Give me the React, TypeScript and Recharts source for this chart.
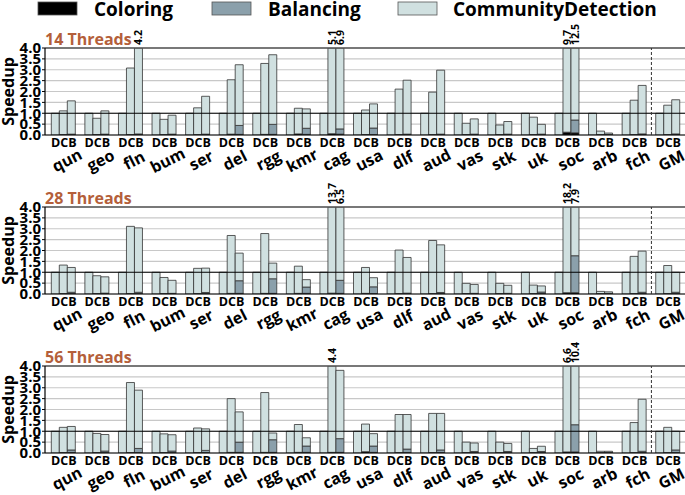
import React from "react";
import { BarChart, Bar, XAxis, YAxis, CartesianGrid, ReferenceLine, LabelList } from "recharts";

const FONT = "'Open Sans', 'DejaVu Sans', sans-serif";
const CD_FILL = "#d0e0e0";
const BAL_FILL = "#8ba0ab";
const COL_FILL = "#000000";
const EDGE = "#333333";

const graphs = ["qun", "geo", "fln", "bum", "ser", "del", "rgg", "kmr", "cag", "usa", "dlf", "aud", "vas", "stk", "uk", "soc", "arb", "fch", "GM"];
const yTicks = [0, 0.5, 1, 1.5, 2, 2.5, 3, 3.5, 4];
const legendItems = ["Coloring", "Balancing", "CommunityDetection"];

// D = baseline speedup
const baseline = [1, 1, 1, 1, 1, 1, 1, 1, 1, 1, 1, 1, 1, 1, 1, 1, 1, 1, 1];

// 14 threads
const c14 = [1.11, 0.77, 3.08, 0.72, 1.25, 2.54, 3.29, 1.23, 5.1, 1.15, 2.11, 1.97, 0.54, 0.46, 0.82, 9.7, 0.18, 1.6, 1.37];
const b14 = [1.57, 1.11, 4.2, 0.91, 1.78, 3.23, 3.69, 1.2, 6.9, 1.43, 2.52, 2.98, 0.74, 0.62, 0.49, 12.5, 0.09, 2.28, 1.62];
const cColor14 = [0.02, 0.02, 0.02, 0.02, 0.02, 0.04, 0.03, 0.05, 0.06, 0.02, 0.02, 0.02, 0.02, 0.02, 0.02, 0.13, 0.02, 0.02, 0.02];
const bColor14 = [0.02, 0.02, 0.02, 0.02, 0.02, 0.03, 0.03, 0.03, 0.04, 0.02, 0.02, 0.02, 0.02, 0.02, 0.02, 0.1, 0.02, 0.02, 0.02];
const bBal14 = [0.02, 0.02, 0.03, 0.02, 0.02, 0.41, 0.46, 0.28, 0.24, 0.3, 0.02, 0.02, 0.02, 0.02, 0.02, 0.59, 0.01, 0.03, 0.03];

// 28 threads
const c28 = [1.33, 0.84, 3.11, 0.76, 1.18, 2.69, 2.78, 1.28, 13.7, 1.22, 2.02, 2.46, 0.49, 0.49, 0.41, 18.2, 0.12, 1.73, 1.31];
const b28 = [1.22, 0.79, 3.04, 0.63, 1.19, 1.88, 1.42, 0.66, 6.5, 0.75, 1.68, 2.26, 0.44, 0.4, 0.37, 7.9, 0.1, 1.97, 1.0];
const cColor28 = [0.02, 0.02, 0.02, 0.02, 0.02, 0.03, 0.03, 0.03, 0.04, 0.03, 0.02, 0.02, 0.02, 0.02, 0.02, 0.06, 0.02, 0.02, 0.02];
const bColor28 = [0.02, 0.02, 0.02, 0.02, 0.02, 0.03, 0.03, 0.03, 0.03, 0.02, 0.02, 0.02, 0.02, 0.02, 0.02, 0.06, 0.02, 0.02, 0.02];
const bBal28 = [0.06, 0.02, 0.06, 0.01, 0.05, 0.58, 0.67, 0.29, 0.6, 0.31, 0.02, 0.05, 0.01, 0.01, 0.07, 1.7, 0.01, 0.06, 0.06];

// 56 threads
const c56 = [1.18, 0.9, 3.24, 0.88, 1.15, 2.5, 2.78, 1.31, 4.4, 1.33, 1.77, 1.82, 0.5, 0.5, 0.21, 6.6, 0.08, 1.4, 1.18];
const b56 = [1.22, 0.85, 2.89, 0.84, 1.11, 1.89, 0.92, 0.7, 3.8, 0.89, 1.77, 1.82, 0.46, 0.44, 0.31, 10.4, 0.08, 2.47, 1.0];
const cColor56 = [0.02, 0.02, 0.02, 0.02, 0.02, 0.03, 0.03, 0.03, 0.03, 0.06, 0.02, 0.02, 0.02, 0.02, 0.02, 0.05, 0.02, 0.02, 0.02];
const bColor56 = [0.02, 0.02, 0.02, 0.02, 0.02, 0.03, 0.03, 0.03, 0.03, 0.03, 0.02, 0.02, 0.02, 0.02, 0.02, 0.05, 0.02, 0.02, 0.02];
const bBal56 = [0.12, 0.07, 0.19, 0.07, 0.1, 0.47, 0.58, 0.29, 0.63, 0.29, 0.16, 0.12, 0.05, 0.05, 0.05, 1.25, 0.01, 0.06, 0.12];

const W = 685;
const PLOT_TOP = 26;
const PLOT_H = 87;
const AXIS_H = 42;

function GroupTick(props: any) {
  const { x, y, payload } = props;
  const half = payload?.offset ?? 16.8;
  return (
    <g>
      <text x={x} y={y + 12} textAnchor="middle" fontSize={12.5} fontWeight={700} fill="#000" fontFamily={FONT}>
        DCB
      </text>
      <text
        x={0}
        y={0}
        transform={`translate(${x + 3},${y + 25}) rotate(-27)`}
        textAnchor="middle"
        dominantBaseline="central"
        fontSize={16}
        fontWeight={700}
        fill="#000"
        fontFamily={FONT}
      >
        {payload.value}
      </text>
      {payload.value === "GM" && (
        <line x1={x - half} x2={x - half} y1={y} y2={y - PLOT_H} stroke="#333" strokeDasharray="3 2" />
      )}
    </g>
  );
}

function OverflowLabel(props: any) {
  const { value } = props;
  if (!value) return null;
  const vb = props.viewBox ?? props;
  const cx = Number(vb.x) + Number(vb.width) / 2;
  return (
    <text
      x={0}
      y={0}
      transform={`translate(${cx},${PLOT_TOP - 3}) rotate(-90)`}
      textAnchor="start"
      dominantBaseline="central"
      fontSize={10.5}
      fontWeight={700}
      fill="#000"
      fontFamily={FONT}
    >
      {value}
    </text>
  );
}

interface PanelProps {
  top: number;
  c: number[];
  b: number[];
  cCol: number[];
  bCol: number[];
  bBal: number[];
}

function Panel({ top, c, b, cCol, bCol, bBal }: PanelProps) {
  const rows = graphs.map((name, i) => ({
    name,
    d: baseline[i],
    cCol: cCol[i],
    cCd: c[i] - cCol[i],
    bCol: bCol[i],
    bBal: bBal[i],
    bCd: b[i] - bCol[i] - bBal[i],
    cLabel: c[i] > 4 ? c[i].toFixed(1) : "",
    bLabel: b[i] > 4 ? b[i].toFixed(1) : "",
  }));

  const barProps = { stroke: EDGE, strokeWidth: 0.8, isAnimationActive: false };

  return (
    <div style={{ position: "absolute", left: 0, top }}>
      <BarChart
        width={W}
        height={PLOT_TOP + PLOT_H + AXIS_H}
        data={rows}
        margin={{ top: PLOT_TOP, right: 0, left: 0, bottom: 0 }}
        barCategoryGap="12.8%"
        barGap={0}
      >
        <CartesianGrid vertical={false} stroke="#c8c8c8" strokeWidth={1.2} />
        <XAxis
          dataKey="name"
          interval={0}
          tickSize={0}
          tickMargin={0}
          height={AXIS_H}
          padding={{ left: 2, right: 0 }}
          axisLine={{ stroke: "#000", strokeWidth: 1.2 }}
          tick={(p: any) => <GroupTick {...p} />}
        />
        <YAxis
          width={45}
          type="number"
          domain={[0, 4]}
          ticks={yTicks}
          interval={0}
          allowDataOverflow
          tickFormatter={(v: number) => v.toFixed(1)}
          tick={{ fontSize: 15, fontWeight: 700, fill: "#000", fontFamily: FONT }}
          tickSize={3}
          tickMargin={1}
          axisLine={{ stroke: "#000", strokeWidth: 1.2 }}
          tickLine={{ stroke: "#000" }}
        />
        <Bar dataKey="d" stackId="d" fill={CD_FILL} {...barProps} />
        <Bar dataKey="cCol" stackId="c" fill={COL_FILL} {...barProps} />
        <Bar dataKey="cCd" stackId="c" fill={CD_FILL} {...barProps}>
          <LabelList dataKey="cLabel" content={(p: any) => <OverflowLabel {...p} />} />
        </Bar>
        <Bar dataKey="bCol" stackId="b" fill={COL_FILL} {...barProps} />
        <Bar dataKey="bBal" stackId="b" fill={BAL_FILL} {...barProps} />
        <Bar dataKey="bCd" stackId="b" fill={CD_FILL} {...barProps}>
          <LabelList dataKey="bLabel" content={(p: any) => <OverflowLabel {...p} />} />
        </Bar>
        <ReferenceLine y={1} stroke="#000" strokeWidth={1.2} />
        <ReferenceLine y={4} stroke="#555" strokeWidth={1.6} />
      </BarChart>
    </div>
  );
}

const panelTops = [22, 181, 340];
const titles = ["14 Threads", "28 Threads", "56 Threads"];

export default function App() {
  const swatches = [COL_FILL, BAL_FILL, CD_FILL];
  const boxX = [38, 212, 398];
  const textX = [94, 268, 453];
  return (
    <div style={{ position: "absolute", left: 0, top: 0, width: W, height: 495, background: "#fff" }}>
      <Panel top={panelTops[0]} c={c14} b={b14} cCol={cColor14} bCol={bColor14} bBal={bBal14} />
      <Panel top={panelTops[1]} c={c28} b={b28} cCol={cColor28} bCol={bColor28} bBal={bBal28} />
      <Panel top={panelTops[2]} c={c56} b={b56} cCol={cColor56} bCol={bColor56} bBal={bBal56} />
      <svg width={W} height={495} style={{ position: "absolute", left: 0, top: 0, pointerEvents: "none" }}>
        {legendItems.map((name, i) => (
          <g key={name}>
            <rect x={boxX[i]} y={2} width={39} height={13} fill={swatches[i]} stroke="#555" strokeWidth={0.8} />
            <text x={textX[i]} y={16} fontSize={19} fontWeight={700} fill="#000" fontFamily={FONT}>
              {name}
            </text>
          </g>
        ))}
        {titles.map((t, i) => (
          <g key={t}>
            <text x={45} y={panelTops[i] + PLOT_TOP - 3} fontSize={16} fontWeight={700} fill="#b45f3a" fontFamily={FONT}>
              {t}
            </text>
            <text
              x={0}
              y={0}
              transform={`translate(14,${panelTops[i] + PLOT_TOP + PLOT_H / 2}) rotate(-90)`}
              textAnchor="middle"
              fontSize={16}
              fontWeight={700}
              fill="#000"
              fontFamily={FONT}
            >
              Speedup
            </text>
          </g>
        ))}
      </svg>
    </div>
  );
}
